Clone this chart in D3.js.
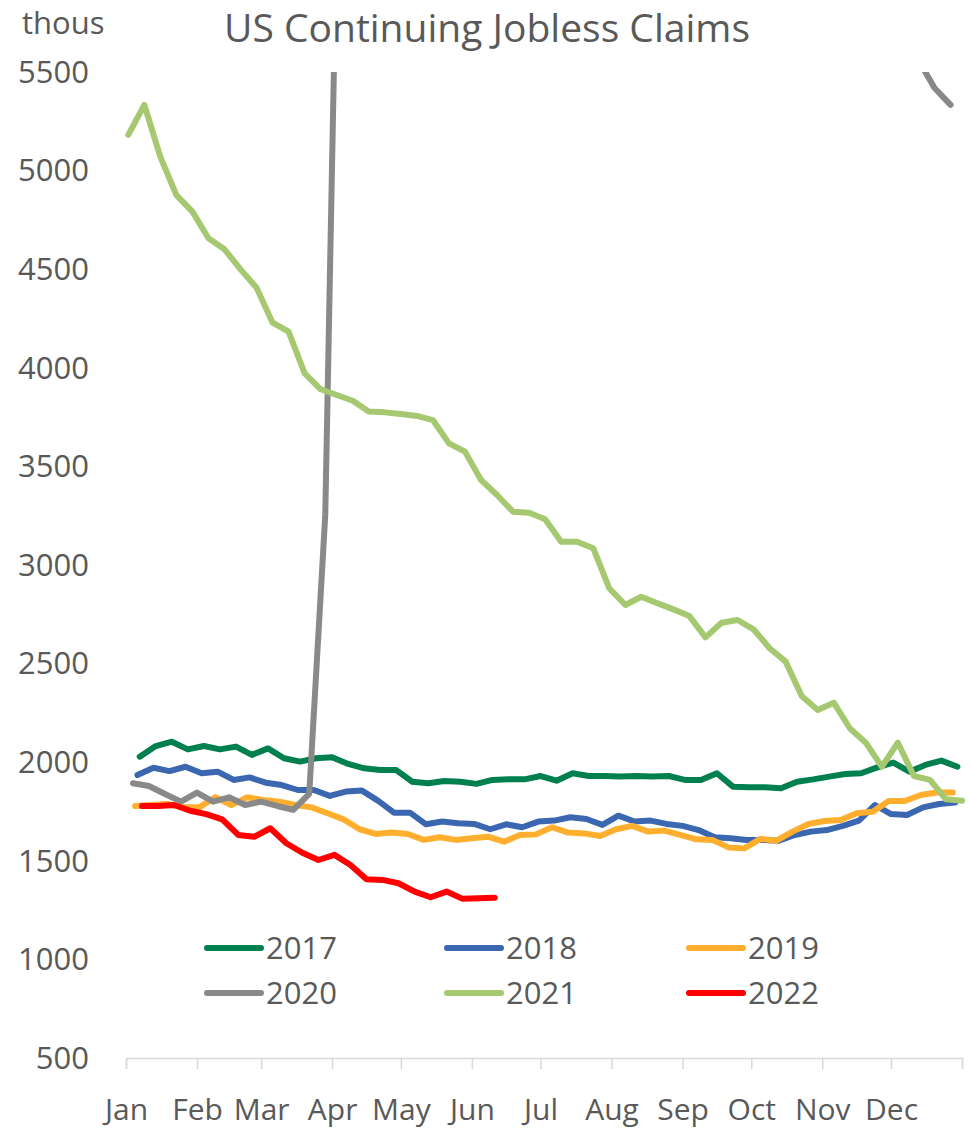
<!DOCTYPE html>
<html>
<head>
<meta charset="utf-8">
<script src="https://cdn.jsdelivr.net/npm/d3@7"></script>
<style>
  body { margin: 0; background: #fff; }
  svg text { font-family: "Open Sans", sans-serif; fill: #595959; }
</style>
</head>
<body>
<svg id="chart" width="972" height="1130"></svg>
<script>
// weekly continuing claims, thousands
const years = ['2017', '2018', '2019', '2020', '2021', '2022'];
const firstWeek = ['2017-01-07', '2018-01-06', '2019-01-05', '2020-01-04', '2021-01-02', '2022-01-08'];
const colors = ['#00804f', '#3b67b0', '#ffae2e', '#898989', '#a5c870', '#ff0000'];

const claims2017 = [2028, 2082, 2104, 2065, 2082, 2065, 2079, 2037, 2070, 2020, 2003, 2020, 2025, 1991, 1969, 1960, 1960, 1901, 1893, 1905, 1901, 1890, 1910, 1913, 1913, 1930,
  1906, 1944, 1930, 1930, 1927, 1930, 1927, 1930, 1910, 1910, 1944, 1876, 1873, 1873, 1868, 1901, 1913, 1927, 1940, 1944, 1974, 1998, 1952, 1986, 2008, 1977];
const claims2018 = [1935, 1972, 1955, 1977, 1944, 1952, 1910, 1923, 1896, 1884, 1859, 1859, 1829, 1851, 1856, 1805, 1744, 1744, 1685, 1699, 1690, 1687, 1660, 1685, 1670, 1699,
  1704, 1721, 1712, 1682, 1729, 1699, 1704, 1687, 1677, 1656, 1619, 1614, 1606, 1606, 1602, 1631, 1648, 1656, 1677, 1704, 1783, 1737, 1732, 1771, 1788, 1795];
const claims2019 = [1778, 1783, 1788, 1771, 1771, 1822, 1783, 1822, 1808, 1800, 1783, 1771, 1741, 1710, 1660, 1636, 1643, 1636, 1606, 1619, 1606, 1614, 1622, 1597, 1631, 1634,
  1670, 1643, 1639, 1626, 1660, 1677, 1648, 1653, 1631, 1609, 1606, 1568, 1563, 1611, 1602, 1648, 1687, 1702, 1707, 1741, 1749, 1803, 1803, 1834, 1846, 1846];
const claims2020 = [1893, 1879, 1839, 1800, 1846, 1800, 1822, 1783, 1800, 1778, 1758, 1839,
  3254, 7446, 11914, 15819, 18011, 22377, 22548, 24912, 20838, 21268, 20289, 19231, 19290, 17760, 16151, 17338, 16107, 16090,
  15486, 14492, 14535, 13544, 13385, 12628, 12580, 11767, 10976, 10018, 8373, 7756, 7285, 6801, 6370, 6089, 6071, 5900, 5780, 5560, 5419, 5333];
const claims2021 = [5181, 5333, 5070, 4876, 4792, 4657, 4601, 4499, 4406, 4229, 4183, 3972, 3891, 3862, 3833, 3778, 3774, 3766, 3756, 3735, 3617, 3575,
  3431, 3355, 3270, 3265, 3232, 3118, 3118, 3085, 2882, 2797, 2839, 2806, 2775, 2741, 2633, 2707, 2721, 2674, 2578, 2510,
  2336, 2265, 2302, 2172, 2099, 1977, 2099, 1930, 1910, 1812, 1805];
const claims2022 = [1778, 1778, 1783, 1754, 1737, 1710, 1631, 1622, 1665, 1589, 1541, 1504, 1530, 1479, 1406, 1403, 1386, 1344, 1315, 1344, 1307, 1310, 1313];

const allClaims = [claims2017, claims2018, claims2019, claims2020, claims2021, claims2022];
const yTicks = [500, 1000, 1500, 2000, 2500, 3000, 3500, 4000, 4500, 5000, 5500];

const svg = d3.select('#chart');
const plotLeft = 126, plotRight = 962, plotTop = 72, plotBottom = 1058;

// every year is laid over one common calendar year
const refStart = new Date(2017, 0, 1);
const x = d3.scaleTime()
  .domain([refStart, new Date(2018, 0, 1)])
  .range([plotLeft, plotRight]);
const y = d3.scaleLinear()
  .domain([500, 5500])
  .range([plotBottom, plotTop]);

const parse = d3.timeParse('%Y-%m-%d');

const series = years.map((yr, i) => {
  const start = parse(firstWeek[i]);
  const jan1 = new Date(start.getFullYear(), 0, 1);
  return {
    year: yr,
    color: colors[i],
    points: allClaims[i].map((v, k) => {
      const d = d3.timeWeek.offset(start, k);
      return { date: d3.timeDay.offset(refStart, d3.timeDay.count(jan1, d)), value: v };
    })
  };
});

svg.append('text')
  .attr('x', 487)
  .attr('y', 42)
  .attr('text-anchor', 'middle')
  .style('font-size', '39px')
  .text('US Continuing Jobless Claims');

svg.append('text')
  .attr('x', 22)
  .attr('y', 34)
  .style('font-size', '31px')
  .text('thous');

// y axis labels only
svg.append('g')
  .selectAll('text')
  .data(yTicks)
  .join('text')
  .attr('x', 89)
  .attr('y', d => y(d))
  .attr('dy', '0.35em')
  .attr('text-anchor', 'end')
  .style('font-size', '31px')
  .text(d => d);

// x axis
const xAxis = d3.axisBottom(x)
  .ticks(d3.timeMonth.every(1))
  .tickSize(11)
  .tickFormat(d => d.getFullYear() === 2017 ? d3.timeFormat('%b')(d) : '');

const gx = svg.append('g')
  .attr('transform', `translate(0,${plotBottom})`)
  .call(xAxis);
gx.select('.domain').attr('stroke', '#d9d9d9').attr('stroke-width', 1.5);
gx.selectAll('.tick line').attr('stroke', '#d9d9d9').attr('stroke-width', 1.5);
gx.selectAll('.tick text')
  .attr('y', 62)
  .attr('dy', 0)
  .attr('fill', '#595959')
  .style('font-size', '30px')
  .style('font-family', '"Open Sans", sans-serif');

svg.append('clipPath')
  .attr('id', 'plotClip')
  .append('rect')
  .attr('x', plotLeft - 10)
  .attr('y', plotTop)
  .attr('width', plotRight - plotLeft + 20)
  .attr('height', plotBottom - plotTop);

const line = d3.line()
  .x(d => x(d.date))
  .y(d => y(d.value));

svg.append('g')
  .attr('clip-path', 'url(#plotClip)')
  .selectAll('path')
  .data(series)
  .join('path')
  .attr('d', d => line(d.points))
  .attr('fill', 'none')
  .attr('stroke', d => d.color)
  .attr('stroke-width', 6)
  .attr('stroke-linejoin', 'round')
  .attr('stroke-linecap', 'round');

// legend
const legendX = [207, 447, 689];
const legendY = [948, 993];
const legend = svg.append('g')
  .selectAll('g')
  .data(series)
  .join('g')
  .attr('transform', (d, i) => `translate(${legendX[i % 3]},${legendY[Math.floor(i / 3)]})`);

legend.append('line')
  .attr('x1', 0)
  .attr('x2', 54)
  .attr('stroke', d => d.color)
  .attr('stroke-width', 6)
  .attr('stroke-linecap', 'round');

legend.append('text')
  .attr('x', 59)
  .attr('dy', '0.35em')
  .style('font-size', '31px')
  .text(d => d.year);
</script>
</body>
</html>
